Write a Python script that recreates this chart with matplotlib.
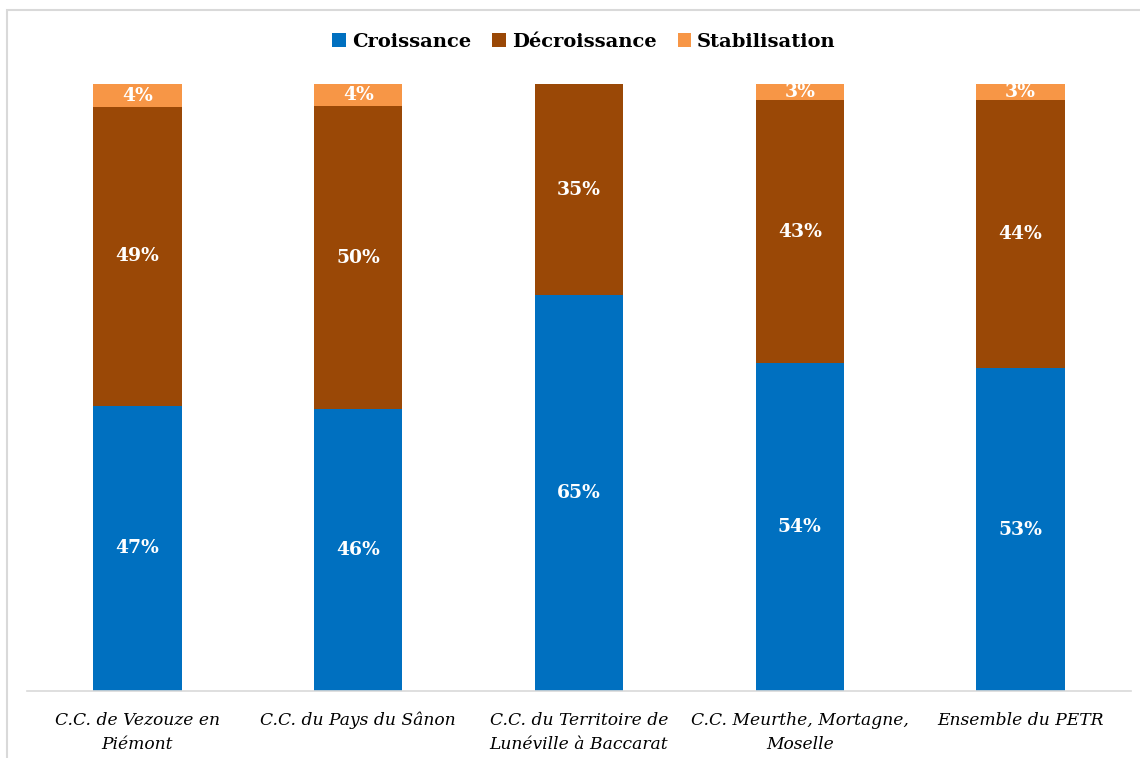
import matplotlib.pyplot as plt
from matplotlib.patches import Rectangle
import numpy as np

# Data (share of communes, %)
categories = [
    "C.C. de Vezouze en\nPiémont",
    "C.C. du Pays du Sânon",
    "C.C. du Territoire de\nLunéville à Baccarat",
    "C.C. Meurthe, Mortagne,\nMoselle",
    "Ensemble du PETR",
]
croissance = [47.0, 46.4, 65.2, 54.0, 53.2]
decroissance = [49.2, 50.0, 34.8, 43.4, 44.2]
stabilisation = [3.8, 3.6, 0.0, 2.6, 2.6]

series = [
    ("Croissance", croissance, "#0070C0"),
    ("Décroissance", decroissance, "#9A4806"),
    ("Stabilisation", stabilisation, "#F79646"),
]

plt.rcParams['font.family'] = ['DejaVu Serif']

W, H = 1140, 758
fig = plt.figure(figsize=(W / 100, H / 100), dpi=100)
ax = fig.add_axes([27 / W, (H - 691) / H, (1131 - 27) / W, (691 - 84) / H])

x = np.arange(len(categories))
bottom = np.zeros(len(categories))
for name, vals, color in series:
    vals = np.array(vals)
    ax.bar(x, vals, 0.40, bottom=bottom, color=color, label=name, zorder=2)
    for xi, b, v in zip(x, bottom, vals):
        if v > 0:
            ax.text(xi, b + v / 2, f"{v:.0f}%", ha='center', va='center',
                    color='white', fontsize=13.5, fontweight='bold', zorder=3)
    bottom += vals

ax.set_xlim(-0.5, len(categories) - 0.5)
ax.set_ylim(0, 100)
ax.set_yticks([])
ax.set_xticks(x)
ax.set_xticklabels(categories, fontsize=12.3, style='italic', linespacing=1.55)
ax.tick_params(axis='x', length=0, pad=15)
for s in ['top', 'right', 'left']:
    ax.spines[s].set_visible(False)
ax.spines['bottom'].set_color('#d9d9d9')
ax.spines['bottom'].set_linewidth(1.2)

fig.legend(loc='center', bbox_to_anchor=(584 / W, (H - 42) / H), ncol=3,
           frameon=False, handlelength=0.7, handleheight=0.7, handletextpad=0.3,
           columnspacing=1.1, prop={'size': 14, 'weight': 'bold'})

# outer chart border
fig.add_artist(Rectangle((6.5 / W, -0.1), 2, (H - 10.5) / H + 0.1,
                         transform=fig.transFigure, fill=False,
                         ec='#d9d9d9', lw=1.5))

fig.savefig("out.png", dpi=100)
